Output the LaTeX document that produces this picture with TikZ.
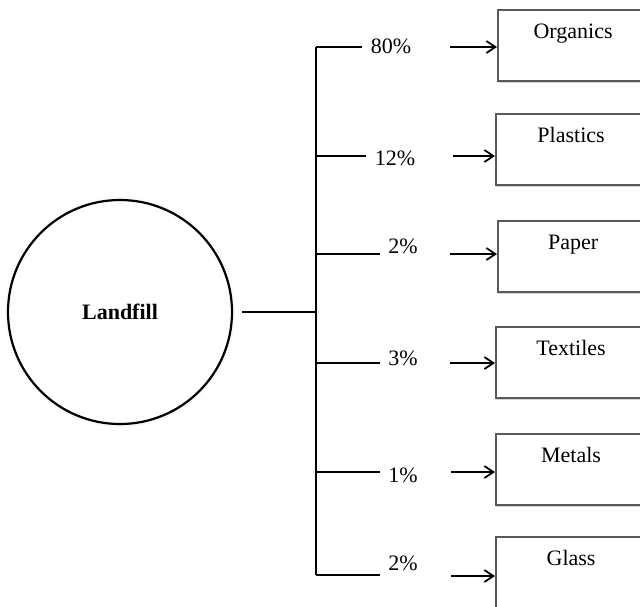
\documentclass[tikz,border=0pt]{standalone}
\usepackage{fontspec}
\setmainfont{Liberation Serif}
\usetikzlibrary{shadows,arrows.meta}

\tikzset{
  wastebox/.style={draw=black!65, line width=2.2pt, fill=white, minimum width=150pt,
    minimum height=71pt, anchor=north west, inner sep=0pt,
    drop shadow={shadow xshift=0pt, shadow yshift=-2pt, opacity=0.35}},
  wastename/.style={anchor=base, font=\fontsize{22}{24}\selectfont},
  share/.style={font=\fontsize{22}{24}\selectfont},
  feed/.style={line width=1.8pt},
  toward/.style={line width=1.8pt, -{Straight Barb[length=9pt,width=12pt]}},
}

\begin{document}
\begin{tikzpicture}[x=1pt,y=-1pt]

      \useasboundingbox (0,0) rectangle (640,606);
      \clip (0,0) rectangle (640,606);

      % source
      \node[circle, draw, line width=2.2pt, fill=white, minimum size=224pt,
        circular drop shadow={shadow xshift=0pt, shadow yshift=0pt, shadow scale=1.03, opacity=0.5},
        font=\fontsize{22}{24}\selectfont\bfseries] (landfill) at (120,312) {Landfill};

      \coordinate (hub) at (316,312);
      \coordinate (b1) at (316,47);
      \coordinate (b2) at (316,156);
      \coordinate (b3) at (316,254);
      \coordinate (b4) at (316,363);
      \coordinate (b5) at (316,472);
      \coordinate (b6) at (316,575);

      \draw[feed] ([xshift=9pt]landfill.east) -- (hub);
      \draw[feed] (b1) -- (b6);

      % shares
      \node[share] (p1) at (391,46) {80\%};
      \node[share] (p2) at (395,158) {12\%};
      \node[share] (p3) at (403,246) {2\%};
      \node[share] (p4) at (403,358) {3\%};
      \node[share] (p5) at (403,475) {1\%};
      \node[share] (p6) at (403,563) {2\%};

      \draw[feed, shorten >=5pt] (b1) -- (b1 -| p1.west);
      \draw[feed, shorten >=5pt] (b2) -- (b2 -| p2.west);
      \draw[feed, shorten >=5pt] (b3) -- (b3 -| p3.west);
      \draw[feed, shorten >=5pt] (b4) -- (b4 -| p4.west);
      \draw[feed, shorten >=5pt] (b5) -- (b5 -| p5.west);
      \draw[feed, shorten >=5pt] (b6) -- (b6 -| p6.west);

      % materials
      \node[wastebox] (org) at (497,9) {};
      \node[wastebox] (pla) at (495,113) {};
      \node[wastebox] (pap) at (497,220) {};
      \node[wastebox] (tex) at (495,326) {};
      \node[wastebox] (met) at (495,433) {};
      \node[wastebox] (gla) at (495,536) {};

      \node[wastename] (orgname) at ([yshift=-29pt]org.north) {Organics};
      \node[wastename] (planame) at ([yshift=-29pt]pla.north) {Plastics};
      \node[wastename] (papname) at ([yshift=-29pt]pap.north) {Paper};
      \node[wastename] (texname) at ([yshift=-29pt]tex.north) {Textiles};
      \node[wastename] (metname) at ([yshift=-29pt]met.north) {Metals};
      \node[wastename] (glaname) at ([yshift=-29pt]gla.north) {Glass};

      \coordinate (a1) at (450,47);
      \coordinate (a2) at (453,156);
      \coordinate (a3) at (450,254);
      \coordinate (a4) at (450,363);
      \coordinate (a5) at (451,472);
      \coordinate (a6) at (451,576);

      \draw[toward] (a1) -- (a1 -| org.west);
      \draw[toward] (a2) -- (a2 -| pla.west);
      \draw[toward] (a3) -- (a3 -| pap.west);
      \draw[toward] (a4) -- (a4 -| tex.west);
      \draw[toward] (a5) -- (a5 -| met.west);
      \draw[toward] (a6) -- (a6 -| gla.west);

    \end{tikzpicture}
\end{document}
